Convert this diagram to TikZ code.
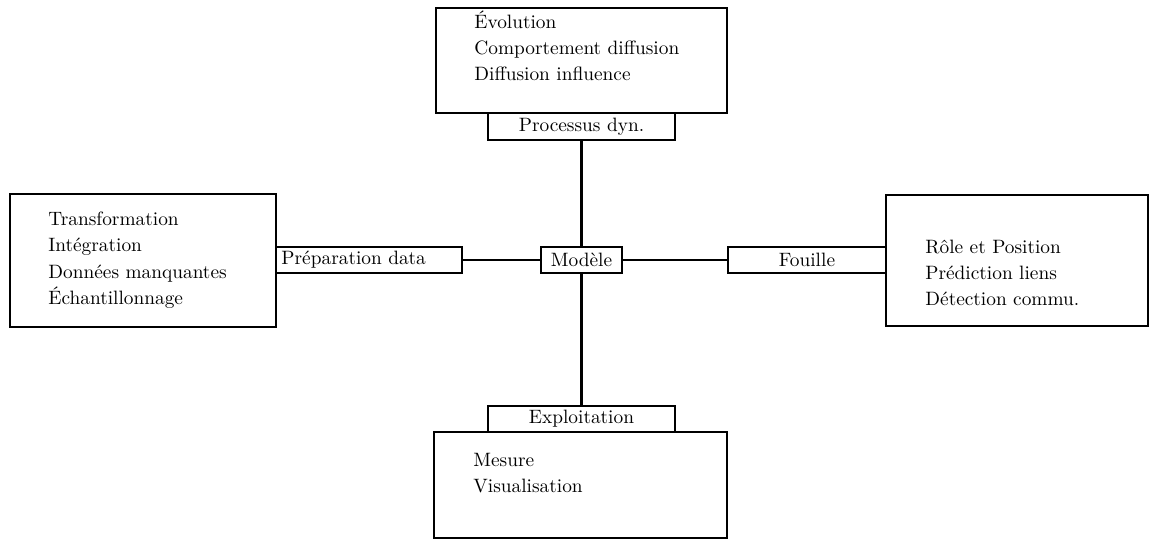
\documentclass[tikz,border=0pt]{standalone}
\usetikzlibrary{fit}
\begin{document}
\begin{tikzpicture}[x=0.517pt,y=-0.517pt,
  frame/.style={draw,line width=1.4pt,inner sep=0pt},
  entry/.style={anchor=base west,inner sep=0pt,font=\normalsize},
  link/.style={line width=1.4pt}]
\useasboundingbox (0,0) rectangle (1152,540);

% outer boxes
\node[frame,fit={(436,8) (727,113)}] (topbox) {};
\node[frame,fit={(10,194) (276,327)}] (leftbox) {};
\node[frame,fit={(886,195) (1148,326)}] (rightbox) {};
\node[frame,fit={(434,432) (727,538)}] (botbox) {};

% tabs
\node[frame,fit={(488,113) (675,140)}] (proc) {};
\node[frame,fit={(276,247) (462,273)}] (prep) {};
\node[frame,fit={(728,247) (886,273)}] (fouille) {};
\node[frame,fit={(488,406) (675,432)}] (exploit) {};
\node[frame,fit={(541,247) (622,273)}] (model) {};

\node (proclbl) at (proc.center) {Processus dyn.};
\node[anchor=west] (preplbl) at (prep.west) {Préparation data};
\node (fouillelbl) at (fouille.center) {Fouille};
\node (exploitlbl) at (exploit.center) {Exploitation};
\node (modellbl) at (model.center) {Modèle};

% connectors
\draw[link] (proc.south) -- (model.north);
\draw[link] (model.south) -- (exploit.north);
\draw[link] (prep.east) -- (model.west);
\draw[link] (model.east) -- (fouille.west);

% item lists
\node[entry] (t1) at (474,28) {Évolution};
\node[entry] (t2) at (474,54) {Comportement diffusion};
\node[entry] (t3) at (474,80) {Diffusion influence};

\node[entry] (l1) at (48,225) {Transformation};
\node[entry] (l2) at (48,251) {Intégration};
\node[entry] (l3) at (48,278) {Données manquantes};
\node[entry] (l4) at (48,304) {Échantillonnage};

\node[entry] (r1) at (925,253) {Rôle et Position};
\node[entry] (r2) at (925,279) {Prédiction liens};
\node[entry] (r3) at (925,305) {Détection commu.};

\node[entry] (b1) at (473,466) {Mesure};
\node[entry] (b2) at (473,492) {Visualisation};
\end{tikzpicture}
\end{document}
